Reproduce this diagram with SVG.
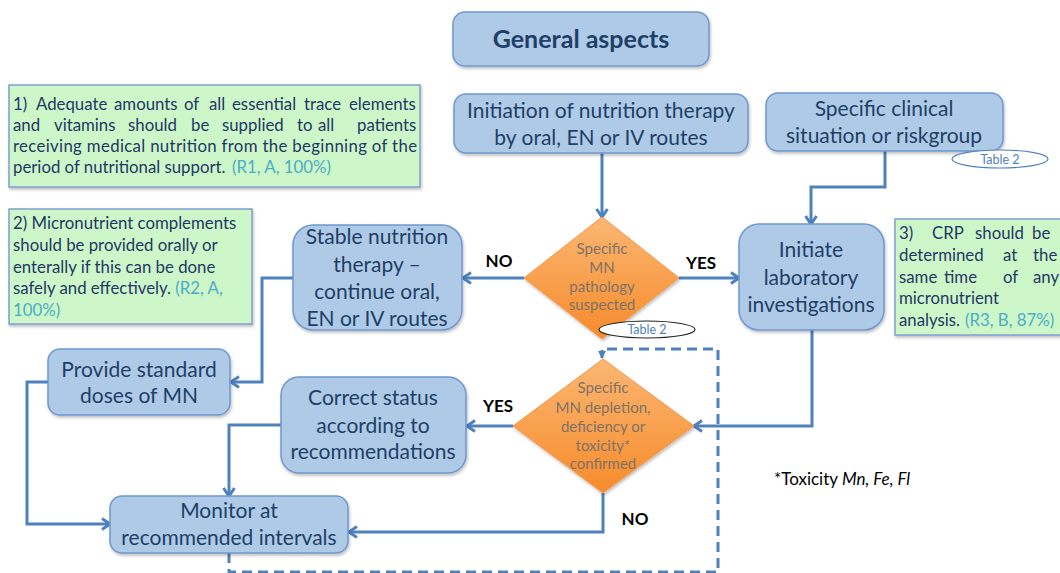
<svg xmlns="http://www.w3.org/2000/svg" width="1060" height="573" viewBox="0 0 1060 573">
<style>
.node{fill:#aecae6;stroke:#6f97cf;stroke-width:1.5}
.nt{font-family:Lato,"Liberation Sans",sans-serif;font-size:21px;fill:#1f3f66;text-anchor:middle}
.green{fill:#cdf7c9;stroke:#7f9fd0;stroke-width:1.5}
.gt{font-family:Lato,"Liberation Sans",sans-serif;font-size:16.8px;fill:#1f3864}
.ref{fill:#4bacc6}
.dia{fill:url(#og);stroke:#f79646;stroke-width:1}
.dt{font-family:Lato,"Liberation Sans",sans-serif;font-size:15px;fill:#807266;text-anchor:middle}
.tab{fill:#fff;stroke-width:1.2}
.tt{font-family:Lato,"Liberation Sans",sans-serif;font-size:12.5px;fill:#4f81bd;text-anchor:middle}
.lbl{font-family:Lato,"Liberation Sans",sans-serif;font-size:17px;font-weight:bold;fill:#000;text-anchor:middle}
.conn{fill:none;stroke:#4f81bd;stroke-width:3}
.dash{fill:none;stroke:#4f81bd;stroke-width:3;stroke-dasharray:10 6}
</style>
<defs>
<linearGradient id="og" x1="0" y1="0" x2="0" y2="1">
<stop offset="0" stop-color="#fbb772"/>
<stop offset="1" stop-color="#f68b2c"/>
</linearGradient>
<filter id="sh" x="-10%" y="-10%" width="120%" height="130%">
<feDropShadow dx="1" dy="2" stdDeviation="1.5" flood-color="#000" flood-opacity="0.25"/>
</filter>
<marker id="arr" markerWidth="14" markerHeight="14" refX="11" refY="7" orient="auto" markerUnits="userSpaceOnUse">
<path d="M3,1.5 L11,7 L3,12.5" fill="none" stroke="#4f81bd" stroke-width="3"/>
</marker>
<marker id="tri" markerWidth="10" markerHeight="10" refX="8" refY="5" orient="auto" markerUnits="userSpaceOnUse">
<path d="M1,1 L9,5 L1,9 z" fill="#4f81bd"/>
</marker>
</defs>

<g id="connectors">
<path class="conn" d="M602,153 V217" marker-end="url(#arr)"/>
<path class="conn" d="M885,151 V187 H811 V224" marker-end="url(#arr)"/>
<path class="conn" d="M524,278 H463" marker-end="url(#arr)"/>
<path class="conn" d="M679,278 H739" marker-end="url(#arr)"/>
<path class="conn" d="M293,278 H262 V382 H231" marker-end="url(#arr)"/>
<path class="conn" d="M48,382 H27 V524 H110" marker-end="url(#arr)"/>
<path class="conn" d="M281,425 H229 V496" marker-end="url(#arr)"/>
<path class="conn" d="M812,330 V426 H694" marker-end="url(#arr)"/>
<path class="conn" d="M513,426 H467" marker-end="url(#arr)"/>
<path class="conn" d="M603,493 V532 H349" marker-end="url(#arr)"/>
<path class="dash" d="M229,553 V572 H718 V349 H602 V358" marker-end="url(#tri)"/>
</g>

<g id="general-aspects">
<rect class="node" x="453" y="12" width="256" height="54" rx="12" filter="url(#sh)"/>
<text x="581" y="48" font-family="Lato,'Liberation Sans',sans-serif" font-size="25" font-weight="bold" fill="#1f3f66" text-anchor="middle">General aspects</text>
</g>

<g id="recommendation-1">
<rect class="green" x="9" y="85" width="411" height="102" filter="url(#sh)"/>
<text class="gt"><tspan x="13" y="110">1)</tspan><tspan x="36" y="110">Adequate</tspan><tspan x="114" y="110">amounts</tspan><tspan x="184" y="110">of</tspan><tspan x="209" y="110">all</tspan><tspan x="232" y="110">essential</tspan><tspan x="304" y="110">trace</tspan><tspan x="349" y="110">elements</tspan></text>
<text class="gt"><tspan x="13" y="131">and</tspan><tspan x="54" y="131">vitamins</tspan><tspan x="128" y="131">should</tspan><tspan x="191" y="131">be</tspan><tspan x="222" y="131">supplied</tspan><tspan x="297" y="131">to</tspan><tspan x="318" y="131">all</tspan><tspan x="357" y="131">patients</tspan></text>
<text class="gt" x="13" y="152" textLength="404" lengthAdjust="spacing">receiving medical nutrition from the beginning of the</text>
<text class="gt" x="13" y="173">period of nutritional support. <tspan class="ref" x="232">(R1, A, 100%)</tspan></text>
</g>

<g id="initiation">
<rect class="node" x="454" y="94" width="294" height="59" rx="12" filter="url(#sh)"/>
<text class="nt" x="601" y="118">Initiation of nutrition therapy</text>
<text class="nt" x="601" y="145">by oral, EN or IV routes</text>
</g>

<g id="specific-clinical">
<rect class="node" x="766" y="93" width="237" height="58" rx="12" filter="url(#sh)"/>
<text class="nt" x="884" y="116">Specific clinical</text>
<text class="nt" x="884" y="143">situation or riskgroup</text>
<ellipse class="tab" cx="1000" cy="159" rx="48" ry="9" stroke="#4f81bd"/>
<text class="tt" x="1000" y="163.5">Table 2</text>
</g>

<g id="recommendation-2">
<rect class="green" x="9" y="209" width="243" height="115" filter="url(#sh)"/>
<text class="gt" x="13" y="229">2) Micronutrient complements</text>
<text class="gt" x="13" y="251">should be provided orally or</text>
<text class="gt" x="13" y="273">enterally if this can be done</text>
<text class="gt" x="13" y="294">safely and effectively. <tspan class="ref">(R2, A,</tspan></text>
<text class="gt ref" x="13" y="316">100%)</text>
</g>

<g id="stable-nutrition">
<rect class="node" x="293" y="225" width="169" height="105" rx="20" filter="url(#sh)"/>
<text class="nt" x="377" y="244">Stable nutrition</text>
<text class="nt" x="377" y="272">therapy –</text>
<text class="nt" x="377" y="299">continue oral,</text>
<text class="nt" x="377" y="326">EN or IV routes</text>
</g>

<g id="decision-pathology">
<polygon class="dia" points="602,217 679,278 602,339 524,278" filter="url(#sh)"/>
<text class="dt" x="602" y="254">Specific</text>
<text class="dt" x="602" y="273">MN</text>
<text class="dt" x="602" y="292">pathology</text>
<text class="dt" x="602" y="310">suspected</text>
<ellipse class="tab" cx="647" cy="329.5" rx="48" ry="8.5" stroke="#222"/>
<text class="tt" x="647" y="334">Table 2</text>
</g>

<g id="labels">
<text class="lbl" x="499" y="267">NO</text>
<text class="lbl" x="701" y="269">YES</text>
<text class="lbl" x="498" y="412">YES</text>
<text class="lbl" x="635" y="525">NO</text>
</g>

<g id="initiate-lab">
<rect class="node" x="739" y="224" width="145" height="106" rx="20" filter="url(#sh)"/>
<text class="nt" x="811" y="257">Initiate</text>
<text class="nt" x="811" y="285">laboratory</text>
<text class="nt" x="811" y="312">investigations</text>
</g>

<g id="recommendation-3">
<rect class="green" x="895" y="219" width="180" height="116" filter="url(#sh)"/>
<text class="gt"><tspan x="899" y="239">3)</tspan><tspan x="932" y="239">CRP</tspan><tspan x="975" y="239">should</tspan><tspan x="1032" y="239">be</tspan></text>
<text class="gt"><tspan x="899" y="261">determined</tspan><tspan x="1003" y="261">at</tspan><tspan x="1033" y="261">the</tspan></text>
<text class="gt"><tspan x="899" y="283">same</tspan><tspan x="944" y="283">time</tspan><tspan x="1003" y="283">of</tspan><tspan x="1033" y="283">any</tspan></text>
<text class="gt" x="899" y="304">micronutrient</text>
<text class="gt" x="899" y="326">analysis. <tspan class="ref" x="965">(R3, B, 87%)</tspan></text>
</g>

<g id="provide-standard">
<rect class="node" x="48" y="349" width="182" height="66" rx="12" filter="url(#sh)"/>
<text class="nt" x="139" y="377">Provide standard</text>
<text class="nt" x="139" y="403">doses of MN</text>
</g>

<g id="correct-status">
<rect class="node" x="281" y="377" width="185" height="96" rx="18" filter="url(#sh)"/>
<text class="nt" x="373" y="405">Correct status</text>
<text class="nt" x="373" y="433">according to</text>
<text class="nt" x="373" y="459">recommendations</text>
</g>

<g id="decision-confirmed">
<polygon class="dia" points="603,359 694,426 603,493 513,426" filter="url(#sh)"/>
<text class="dt" x="603" y="393">Specific</text>
<text class="dt" x="603" y="413">MN depletion,</text>
<text class="dt" x="603" y="432">deficiency or</text>
<text class="dt" x="603" y="451">toxicity*</text>
<text class="dt" x="603" y="469">confirmed</text>
</g>

<g id="monitor">
<rect class="node" x="110" y="496" width="238" height="57" rx="12" filter="url(#sh)"/>
<text class="nt" x="229" y="518">Monitor at</text>
<text class="nt" x="229" y="545">recommended intervals</text>
</g>

<g id="toxicity-note">
<text x="774" y="485" font-family="Lato,'Liberation Sans',sans-serif" font-size="17" fill="#000">*Toxicity <tspan font-style="italic">Mn, Fe, Fl</tspan></text>
</g>
</svg>
